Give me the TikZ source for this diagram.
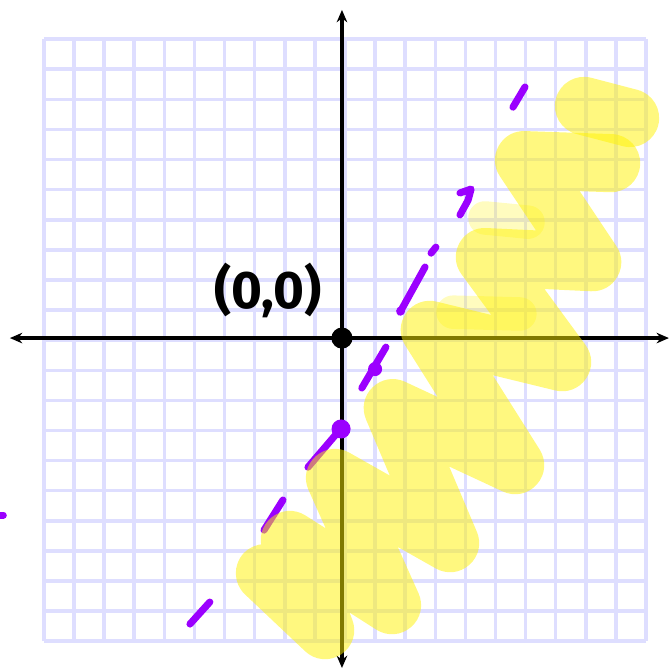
\documentclass[tikz,border=0pt]{standalone}
\usepackage{fontspec}
\usepackage{tikz}
\usetikzlibrary{arrows.meta}
\newfontfamily\handfont{Fira Sans}
\definecolor{mygrid}{RGB}{222,222,255}
\definecolor{mypurple}{RGB}{155,0,255}

\begin{document}
\begin{tikzpicture}[x=0.6cm,y=0.6cm,
    axisline/.style={line width=2.5pt,{Stealth[length=7pt,width=6pt]}-{Stealth[length=7pt,width=6pt]}},
    dashpen/.style={mypurple,line width=4pt,line cap=round,line join=round},
    marker/.style={yellow,opacity=0.5,line width=33pt,line cap=round,line join=round}]
  \useasboundingbox (-11.36,-11.06) rectangle (10.86,11.23);
  \begin{scope}[shift={(0.1,-0.07)}]
    \draw[mygrid,line width=2pt,step=0.6cm] (-10,-10) grid (10,10); % graph paper
  \end{scope}
  \draw[axisline] (-11.03,0) -- (10.86,0);
  \draw[axisline] (0,-10.96) -- (0,10.9);
  \node[circle,fill=black,inner sep=0pt,minimum size=0.42cm] (O) at (0,0) {};
  \node[anchor=south east,inner sep=0pt,xshift=-7pt,yshift=7pt,
        font=\handfont\bfseries\fontsize{30}{30}\selectfont] (L) at (O.north west) {(0,0)};
  % the dashed line
  \draw[dashpen] (-5.05,-9.50) -- (-4.39,-8.77);
  \draw[dashpen] (-2.59,-6.38) -- (-1.96,-5.38);
  \draw[dashpen] (-1.13,-4.29) -- (-0.13,-3.12);
  \draw[dashpen] (0.66,-1.66) -- (1.46,-0.30);
  \draw[dashpen] (1.93,0.86) -- (2.76,2.36);
  \draw[dashpen] (2.96,2.82) -- (3.12,3.02);
  \draw[dashpen] (3.92,4.09) -- (4.19,4.58) -- (4.29,4.95) -- (3.92,4.82);
  \draw[dashpen] (5.68,7.67) -- (6.08,8.34);
  \draw[dashpen] (-11.40,-5.88) -- (-11.25,-5.88);
  \node[circle,fill=mypurple,inner sep=0pt,minimum size=0.38cm] (A) at (-0.03,-3.02) {};
  \node[circle,fill=mypurple,inner sep=0pt,minimum size=0.28cm] (B) at (1.10,-1.03) {};
  \fill[mypurple] (1.95,0.90) circle (0.15);
  % highlighter
  \draw[marker] (8.04,7.71) -- (9.57,7.31);
  \draw[marker] (8.94,5.81) -- (6.05,5.91) -- (8.31,2.52) -- (4.75,2.69) -- (7.31,-0.80)
    -- (2.92,0.27) -- (5.75,-4.22) -- (1.69,-2.33) -- (3.59,-6.81) -- (-0.23,-4.65)
    -- (1.66,-8.87) -- (-1.73,-6.71) -- (-0.56,-9.70) -- (-2.56,-7.81);
  \draw[marker,opacity=0.25,line width=19pt] (4.75,3.99) -- (6.18,3.85);
  \draw[marker,opacity=0.25,line width=19pt] (3.69,0.86) -- (5.91,0.80);
\end{tikzpicture}
\end{document}
